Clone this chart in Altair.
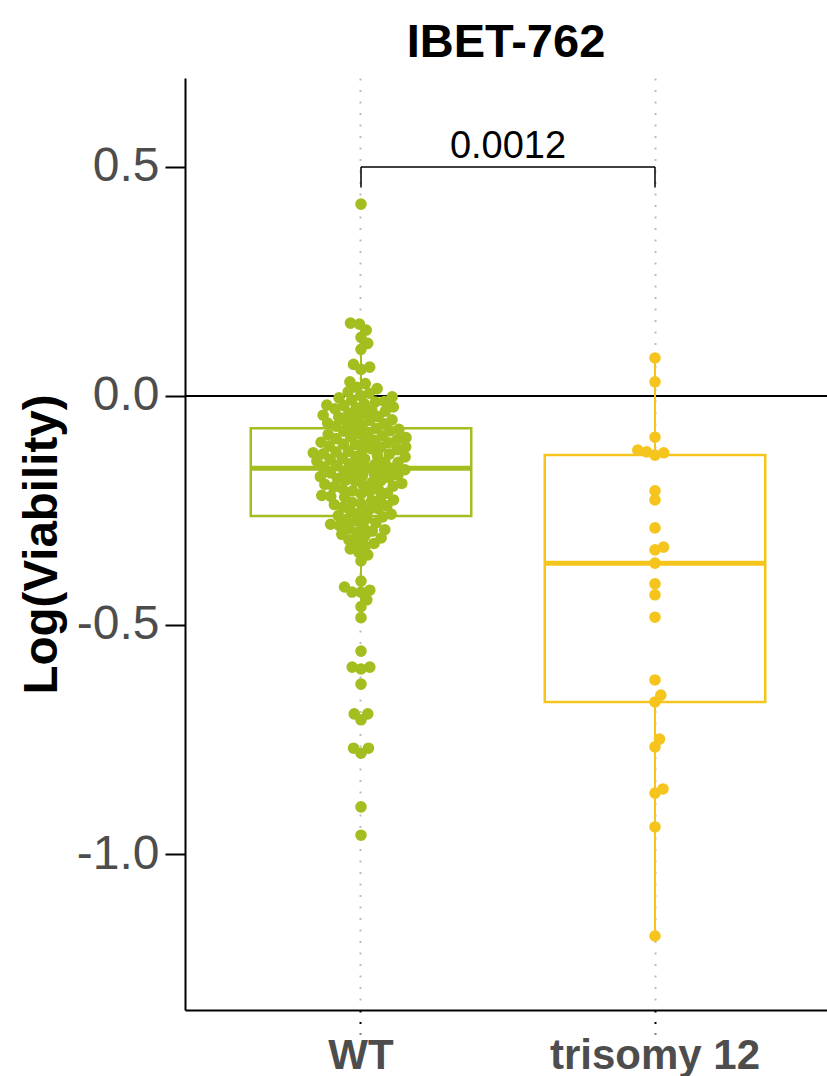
import math
import altair as alt
import numpy as np
import pandas as pd

# ---------------- data ----------------
groups = ["WT", "trisomy 12"]
group_colors = ["#A3BE1F", "#F5C51E"]

wt_values = [
    0.419,
    0.159, 0.157, 0.144, 0.128, 0.115, 0.102, 0.069, 0.063, 0.058,
    0.031, 0.027, 0.019, 0.016, 0.009, 0.006, 0.001,
    -0.002, -0.004, -0.009, -0.012, -0.013, -0.017, -0.020, -0.021, -0.024,
    -0.026, -0.028, -0.031, -0.033, -0.037, -0.038, -0.042, -0.045, -0.046, -0.049,
    -0.052, -0.053, -0.056, -0.059, -0.061, -0.063, -0.066, -0.068, -0.071, -0.073,
    -0.076, -0.077, -0.080, -0.083, -0.084, -0.087, -0.089, -0.091, -0.093, -0.095, -0.097, -0.099,
    -0.101, -0.102, -0.105, -0.106, -0.109, -0.111, -0.112, -0.115, -0.117, -0.118, -0.121, -0.122, -0.124,
    -0.126, -0.127, -0.130, -0.132, -0.133, -0.136, -0.137, -0.139, -0.142, -0.144, -0.145, -0.148, -0.149,
    -0.151, -0.152, -0.155, -0.157, -0.158, -0.161, -0.163, -0.164, -0.167, -0.168, -0.170, -0.173, -0.174,
    -0.176, -0.178, -0.180, -0.183, -0.185, -0.186, -0.189, -0.191, -0.193, -0.195, -0.197, -0.199,
    -0.202, -0.204, -0.207, -0.209, -0.212, -0.214, -0.217, -0.219, -0.221, -0.224,
    -0.227, -0.229, -0.232, -0.235, -0.237, -0.240, -0.243, -0.246, -0.248,
    -0.252, -0.255, -0.258, -0.261, -0.264, -0.267, -0.270, -0.273,
    -0.277, -0.280, -0.283, -0.285, -0.289, -0.292, -0.295, -0.298,
    -0.302, -0.306, -0.310, -0.314, -0.318, -0.322,
    -0.328, -0.334, -0.341, -0.347,
    -0.360, -0.404, -0.417, -0.424, -0.428, -0.428, -0.445, -0.460, -0.484,
    -0.557, -0.592, -0.592, -0.596, -0.629, -0.694, -0.694, -0.707,
    -0.769, -0.769, -0.780, -0.897, -0.959,
]

tri12_values = [
    0.083, 0.031, -0.090, -0.118, -0.122, -0.124, -0.129, -0.207, -0.227,
    -0.288, -0.330, -0.336, -0.365, -0.410, -0.434, -0.483, -0.620, -0.653,
    -0.668, -0.749, -0.766, -0.858, -0.867, -0.941, -1.179,
]

p_label = ["0.0012"]
bracket_y = 0.5
bracket_tip = 0.455
ref_line = [0.0]
y_ticks = [-1.0, -0.5, 0.0, 0.5]

# ---------------- layout constants ----------------
W, H = 642, 932
Y_DOM = [-1.3406, 0.6943]
PAD_OUTER = 0.0918
ALIGN = 0.537
STEP = W / (2 + 2 * PAD_OUTER)
PX_PER_UNIT = H / (Y_DOM[1] - Y_DOM[0])
SWARM_D = 9.0
BOX_HALF = 0.375          # half box width, as a fraction of the band
FONT = "Liberation Sans"


def swarm_offsets(values, d):
    ys = [v * PX_PER_UNIT for v in values]
    order = sorted(range(len(values)), key=lambda i: values[i])
    placed = []
    xs = [0.0] * len(values)
    for i in order:
        y = ys[i]
        near = [(px, py) for (px, py) in placed if abs(py - y) < d]
        cands = [0.0]
        for px, py in near:
            dx = math.sqrt(d * d - (py - y) ** 2)
            cands += [px + dx, px - dx]
        ok = [c for c in cands
              if all((c - px) ** 2 + (py - y) ** 2 >= d * d - 1e-6 for px, py in near)]
        best = min(ok, key=lambda c: (abs(c), -c))
        xs[i] = best
        placed.append((best, y))
    return xs


pts_rows = []
box_rows = []
for g, vals in zip(groups, [wt_values, tri12_values]):
    offs = swarm_offsets(vals, SWARM_D)
    for v, o in zip(vals, offs):
        pts_rows.append({"group": g, "value": v, "off": o})
    q1, med, q3 = np.percentile(vals, [25, 50, 75])
    iqr = q3 - q1
    lo = min(v for v in vals if v >= q1 - 1.5 * iqr)
    hi = max(v for v in vals if v <= q3 + 1.5 * iqr)
    box_rows.append({"group": g, "q1": q1, "q3": q3, "median": med, "lo": lo, "hi": hi})

pts = pd.DataFrame(pts_rows)
box = pd.DataFrame(box_rows)
bracket = pd.DataFrame({
    "g1": [groups[0], groups[0], groups[1]],
    "g2": [groups[1], groups[0], groups[1]],
    "y1": [bracket_y, bracket_y, bracket_y],
    "y2": [bracket_y, bracket_tip, bracket_tip],
})
label_df = pd.DataFrame({"g": [groups[1]], "y": [bracket_y], "label": p_label})
ref_df = pd.DataFrame({"y": ref_line})

# ---------------- scales & axes ----------------
x_scale = alt.Scale(domain=groups, paddingInner=0, paddingOuter=PAD_OUTER, align=ALIGN)
y_scale = alt.Scale(domain=Y_DOM, nice=False, zero=False)
color_scale = alt.Scale(domain=groups, range=group_colors)

x_axis = alt.Axis(
    labelAngle=0, labelFont=FONT, labelFontSize=42, labelFontWeight="bold",
    labelColor="#4D4D4D", labelPadding=1, labelLimit=500,
    domainColor="black", domainWidth=2,
    tickColor="black", tickWidth=2, tickSize=24, tickDash=[2, 9.5],
    grid=True, gridColor="#BDBDBD", gridWidth=2, gridDash=[2, 9.5],
)
y_axis = alt.Axis(
    values=y_ticks,
    labelExpr="datum.value < 0 ? '-' + format(-datum.value, '.1f') : format(datum.value, '.1f')",
    labelFont=FONT, labelFontSize=48, labelColor="#4D4D4D", labelPadding=6,
    domainColor="black", domainWidth=2,
    tickColor="black", tickWidth=2, tickSize=20,
    grid=False,
    titleFont=FONT, titleFontSize=47.5, titleFontWeight="bold", titleColor="black",
    titlePadding=10,
)


def X(field, **kw):
    return alt.X(field, type="nominal", scale=x_scale, axis=x_axis, title="", **kw)


def Y(field):
    return alt.Y(field, type="quantitative", scale=y_scale, axis=y_axis, title="Log(Viability)")


hline = alt.Chart(ref_df).mark_rule(color="black", strokeWidth=2).encode(y=Y("y"))

whisk = alt.Chart(box).mark_rule(strokeWidth=2).encode(
    x=X("group"), y=Y("lo"), y2=alt.Y2("hi"),
    color=alt.Color("group:N", scale=color_scale, legend=None),
)

boxes = alt.Chart(box).mark_rect(fill="white", strokeWidth=2.5).encode(
    x=X("group", bandPosition=0.5 - BOX_HALF),
    x2=alt.X2("group", bandPosition=0.5 + BOX_HALF),
    y=Y("q1"), y2=alt.Y2("q3"),
    stroke=alt.Stroke("group:N", scale=color_scale, legend=None),
)

medians = alt.Chart(box).mark_rule(strokeWidth=5).encode(
    x=X("group", bandPosition=0.5 - BOX_HALF),
    x2=alt.X2("group", bandPosition=0.5 + BOX_HALF),
    y=Y("median"),
    color=alt.Color("group:N", scale=color_scale, legend=None),
)

points = alt.Chart(pts).mark_circle(size=135, opacity=1).encode(
    x=X("group"),
    xOffset=alt.XOffset("off:Q", scale=alt.Scale(domain=[-STEP / 2, STEP / 2], nice=False, zero=False)),
    y=Y("value"),
    color=alt.Color("group:N", scale=color_scale, legend=None),
)

brk = alt.Chart(bracket).mark_rule(color="black", strokeWidth=1.5).encode(
    x=X("g1", bandPosition=0.5), x2=alt.X2("g2", bandPosition=0.5),
    y=Y("y1"), y2=alt.Y2("y2"),
)

ptext = alt.Chart(label_df).mark_text(
    font=FONT, fontSize=38, color="black", baseline="alphabetic", align="center", dy=-9
).encode(
    x=X("g", bandPosition=0), y=Y("y"), text="label:N",
)

chart = alt.layer(hline, whisk, boxes, medians, points, brk, ptext).properties(
    width=W, height=H,
    title=alt.TitleParams(
        "IBET-762", font=FONT, fontSize=47, fontWeight="bold", color="black",
        anchor="middle", frame="group", baseline="alphabetic", offset=21, dy=47,
    ),
    autosize=alt.AutoSizeParams(type="none"),
    padding={"left": 185, "top": 78, "right": 0, "bottom": 66},
).configure(
    background="white",
    view=alt.ViewConfig(stroke="transparent"),
)

chart.save("out.html", embed_options={"renderer": "svg", "actions": False})
